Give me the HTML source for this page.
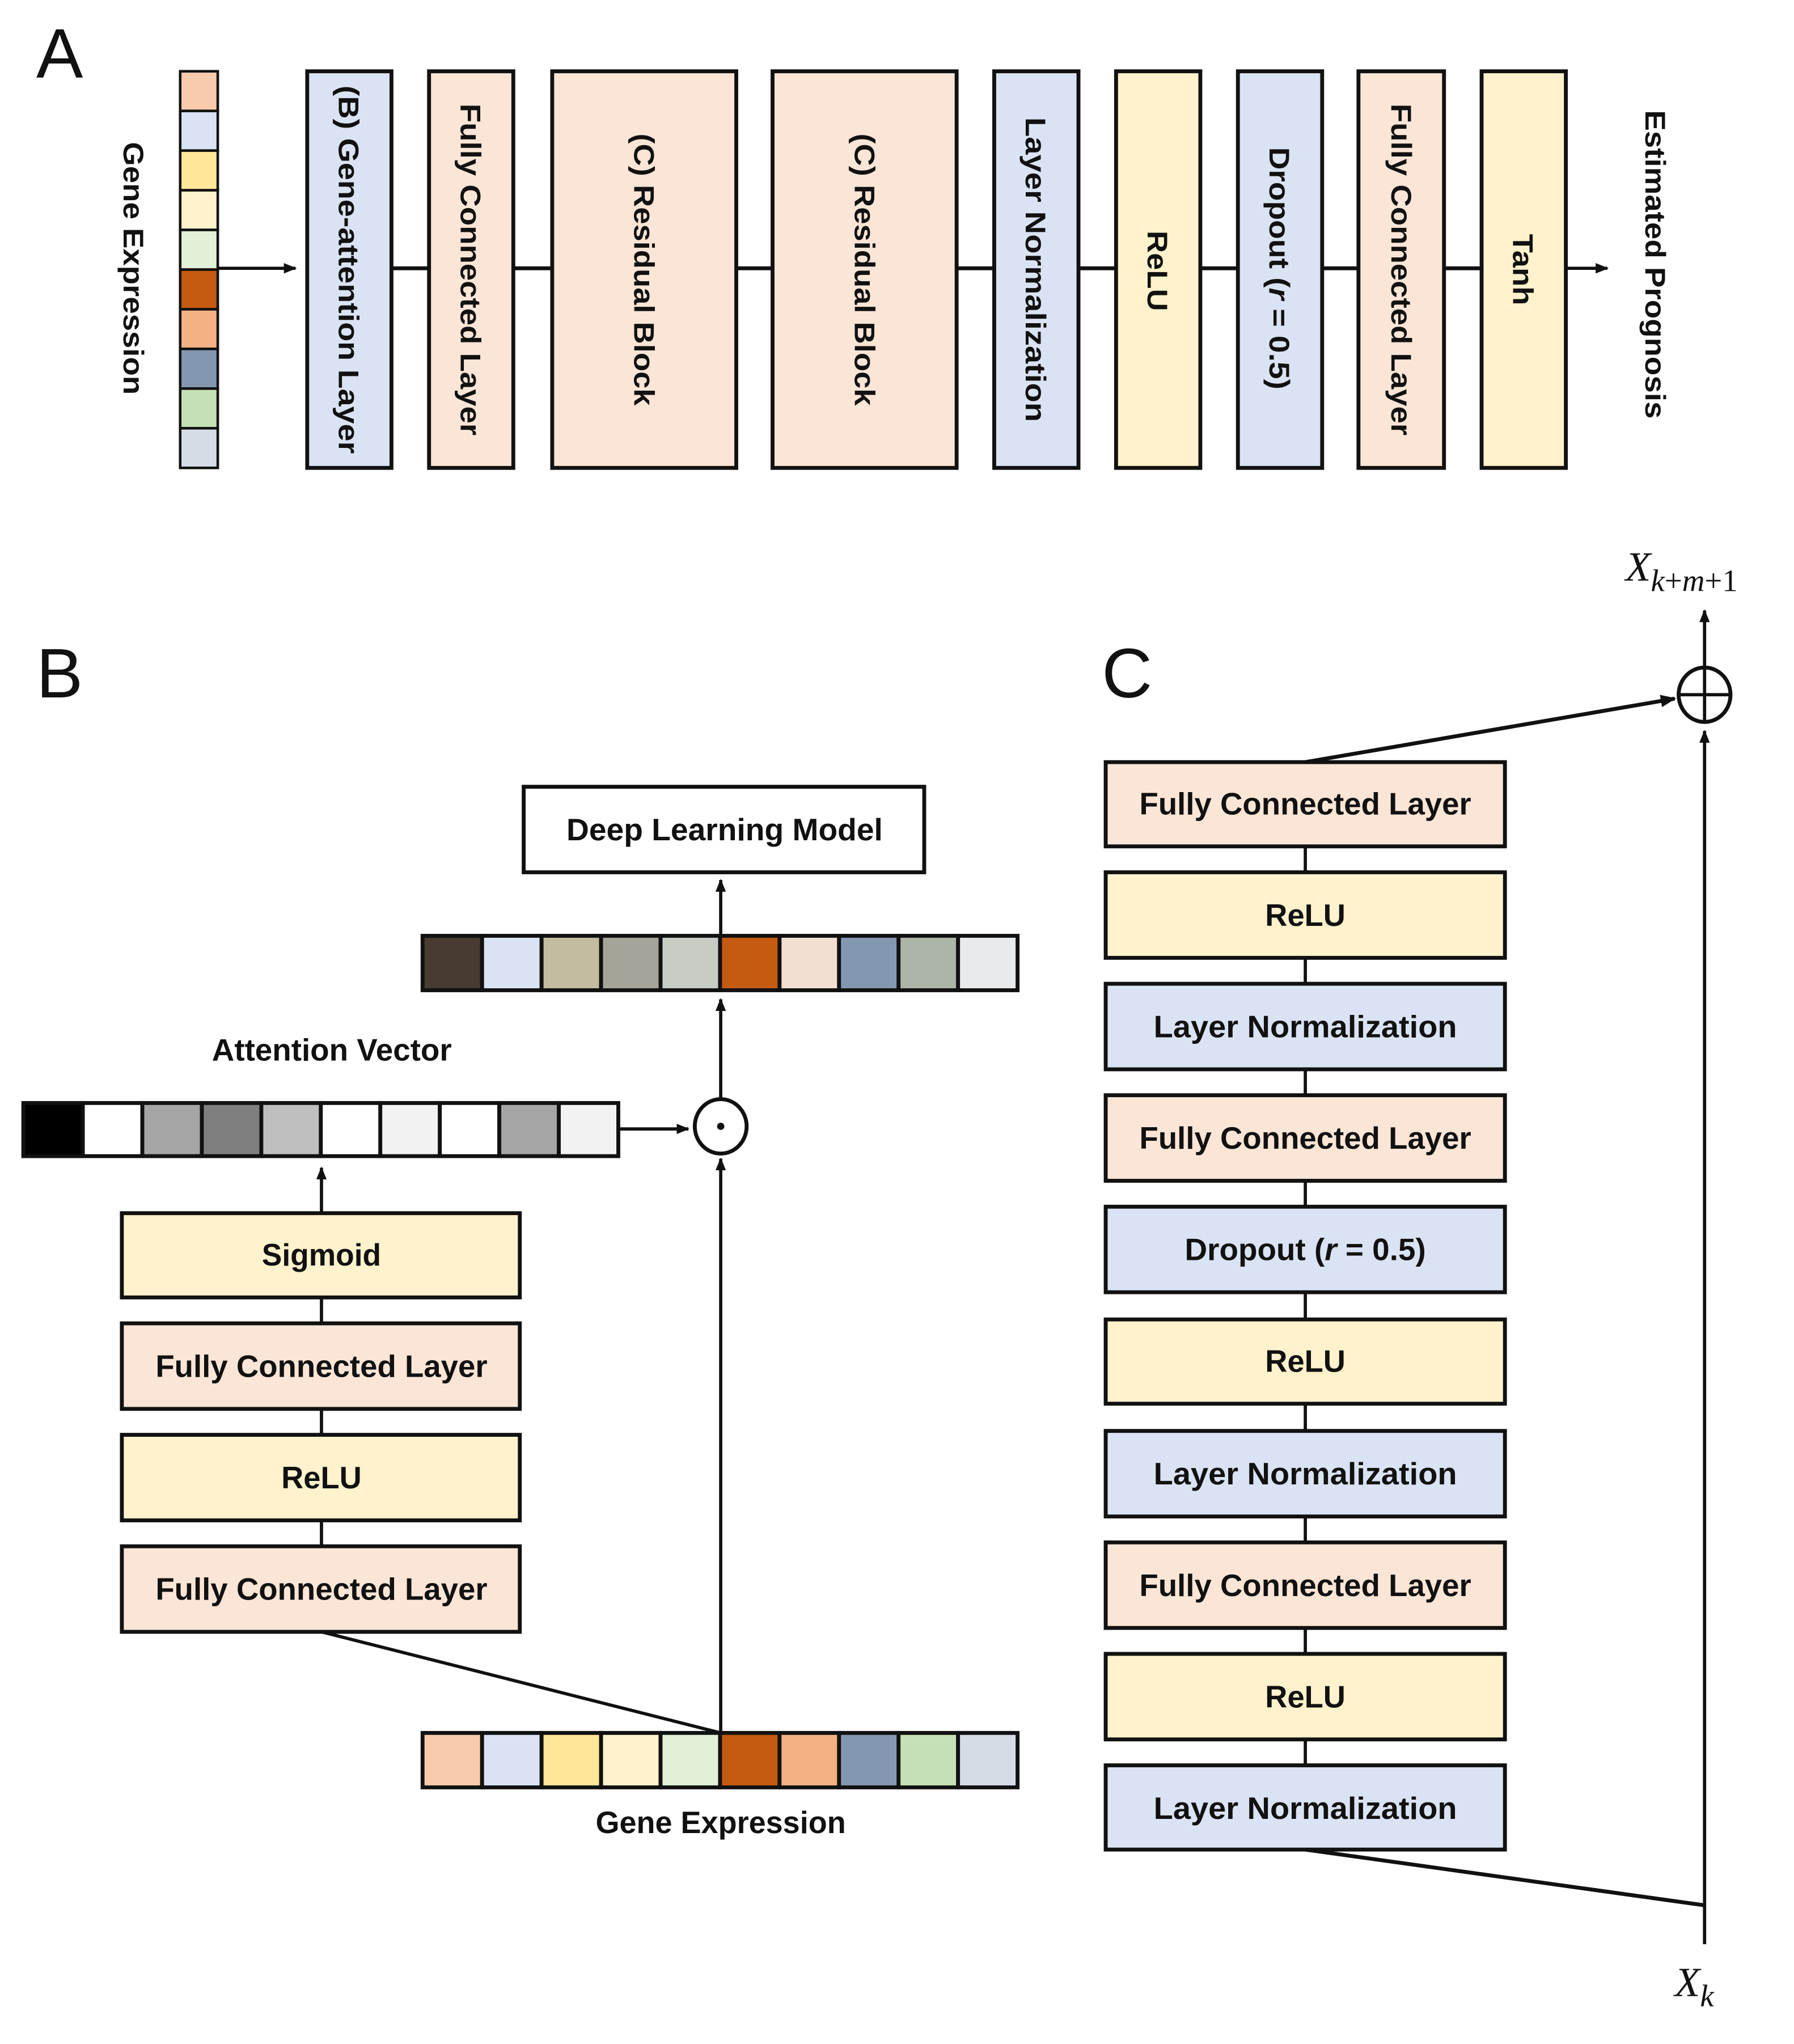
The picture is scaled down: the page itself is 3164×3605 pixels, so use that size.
<!DOCTYPE html>
<html><head><meta charset="utf-8"><style>
html,body{margin:0;padding:0;background:#fff;}
svg{display:block;}
text{font-family:"Liberation Sans",sans-serif;font-weight:bold;fill:#111;}
.n{font-family:"Liberation Sans Narrow","Liberation Sans",sans-serif;}
</style></head><body>
<svg width="3164" height="3605" viewBox="0 0 1384 1577" preserveAspectRatio="none" xmlns="http://www.w3.org/2000/svg">
<defs>
<marker id="ar" viewBox="0 0 10 10" refX="9" refY="5" markerWidth="4" markerHeight="4" orient="auto-start-reverse" markerUnits="strokeWidth">
<path d="M0,1 L10,5 L0,9 z" fill="#111"/></marker>
</defs>
<g stroke="#111" fill="none">
<!-- Panel A -->
<text x="28" y="60" style="font-weight:normal;font-size:54px" stroke="none">A</text>
<g stroke-width="2">
<rect x="139" y="55" width="29" height="30.6" fill="#f8cbad"/>
<rect x="139" y="85.6" width="29" height="30.6" fill="#dae3f3"/>
<rect x="139" y="116.2" width="29" height="30.6" fill="#ffe699"/>
<rect x="139" y="146.8" width="29" height="30.6" fill="#fff2cc"/>
<rect x="139" y="177.4" width="29" height="30.6" fill="#e2f0d9"/>
<rect x="139" y="208" width="29" height="30.6" fill="#c55a11"/>
<rect x="139" y="238.6" width="29" height="30.6" fill="#f4b183"/>
<rect x="139" y="269.2" width="29" height="30.6" fill="#8497b0"/>
<rect x="139" y="299.8" width="29" height="30.6" fill="#c5e0b4"/>
<rect x="139" y="330.4" width="29" height="30.6" fill="#d6dce5"/>
</g>
<line x1="168" y1="207" x2="228" y2="207" stroke-width="2.5" marker-end="url(#ar)"/>
<line x1="302" y1="207" x2="1143" y2="207" stroke-width="3"/>
<line x1="1208" y1="207" x2="1240" y2="207" stroke-width="2.5" marker-end="url(#ar)"/>
<g stroke-width="3">
<rect x="237" y="55" width="65" height="306" fill="#dae3f3"/>
<rect x="331" y="55" width="65" height="306" fill="#fbe5d6"/>
<rect x="426" y="55" width="142" height="306" fill="#fbe5d6"/>
<rect x="596" y="55" width="142" height="306" fill="#fbe5d6"/>
<rect x="767" y="55" width="65" height="306" fill="#dae3f3"/>
<rect x="861" y="55" width="65" height="306" fill="#fff2cc"/>
<rect x="955" y="55" width="65" height="306" fill="#dae3f3"/>
<rect x="1048" y="55" width="66" height="306" fill="#fbe5d6"/>
<rect x="1143" y="55" width="65" height="306" fill="#fff2cc"/>
</g>
<g stroke="none" style="font-size:22px" dominant-baseline="central" text-anchor="middle">
<text transform="translate(103,207) rotate(90)" textLength="195" lengthAdjust="spacingAndGlyphs">Gene Expression</text>
<text transform="translate(269,208) rotate(90)" textLength="284" lengthAdjust="spacingAndGlyphs">(B) Gene-attention Layer</text>
<text transform="translate(363,208) rotate(90)" textLength="256" lengthAdjust="spacingAndGlyphs">Fully Connected Layer</text>
<text transform="translate(497,208) rotate(90)" textLength="210" lengthAdjust="spacingAndGlyphs">(C) Residual Block</text>
<text transform="translate(667,208) rotate(90)" textLength="210" lengthAdjust="spacingAndGlyphs">(C) Residual Block</text>
<text transform="translate(799,208) rotate(90)" textLength="235" lengthAdjust="spacingAndGlyphs">Layer Normalization</text>
<text transform="translate(893,209) rotate(90)" textLength="62" lengthAdjust="spacingAndGlyphs">ReLU</text>
<text transform="translate(987,207) rotate(90)" textLength="187" lengthAdjust="spacingAndGlyphs">Dropout (<tspan font-style="italic">r</tspan> = 0.5)</text>
<text transform="translate(1081,208) rotate(90)" textLength="256" lengthAdjust="spacingAndGlyphs">Fully Connected Layer</text>
<text transform="translate(1175,208) rotate(90)" textLength="55" lengthAdjust="spacingAndGlyphs">Tanh</text>
<text transform="translate(1277,204) rotate(90)" textLength="238" lengthAdjust="spacingAndGlyphs">Estimated Prognosis</text>
</g>

<!-- Panel B -->
<text x="28" y="538" style="font-weight:normal;font-size:54px" stroke="none">B</text>
<rect x="404" y="607" width="309" height="66" fill="#fff" stroke-width="3"/>
<line x1="556" y1="722" x2="556" y2="679" stroke-width="2.5" marker-end="url(#ar)"/>
<g stroke-width="3">
<rect x="326" y="722" width="45.9" height="42" fill="#483c32"/>
<rect x="371.9" y="722" width="45.9" height="42" fill="#dae3f3"/>
<rect x="417.8" y="722" width="45.9" height="42" fill="#c2bca0"/>
<rect x="463.7" y="722" width="45.9" height="42" fill="#a6a398"/>
<rect x="509.6" y="722" width="45.9" height="42" fill="#c7ccc4"/>
<rect x="555.5" y="722" width="45.9" height="42" fill="#c55a11"/>
<rect x="601.4" y="722" width="45.9" height="42" fill="#f2dfd2"/>
<rect x="647.3" y="722" width="45.9" height="42" fill="#8497b0"/>
<rect x="693.2" y="722" width="45.9" height="42" fill="#acb5a8"/>
<rect x="739.1" y="722" width="45.9" height="42" fill="#e9eaec"/>
</g>
<line x1="556" y1="848" x2="556" y2="771" stroke-width="2.5" marker-end="url(#ar)"/>
<g stroke-width="3">
<rect x="18" y="851" width="45.9" height="41" fill="#000"/>
<rect x="63.9" y="851" width="45.9" height="41" fill="#fff"/>
<rect x="109.8" y="851" width="45.9" height="41" fill="#a5a5a5"/>
<rect x="155.7" y="851" width="45.9" height="41" fill="#7f7f7f"/>
<rect x="201.6" y="851" width="45.9" height="41" fill="#bfbfbf"/>
<rect x="247.5" y="851" width="45.9" height="41" fill="#fff"/>
<rect x="293.4" y="851" width="45.9" height="41" fill="#f2f2f2"/>
<rect x="339.3" y="851" width="45.9" height="41" fill="#fff"/>
<rect x="385.2" y="851" width="45.9" height="41" fill="#a5a5a5"/>
<rect x="431.1" y="851" width="45.9" height="41" fill="#f2f2f2"/>
</g>
<line x1="477" y1="871" x2="531" y2="871" stroke-width="2.5" marker-end="url(#ar)"/>
<ellipse cx="556" cy="869" rx="20" ry="21" stroke-width="3" fill="#fff"/>
<circle cx="556" cy="869" r="2.8" fill="#111" stroke="none"/>
<line x1="248" y1="936" x2="248" y2="901" stroke-width="2.5" marker-end="url(#ar)"/>
<line x1="248" y1="1001" x2="248" y2="1193" stroke-width="2.5"/>
<g stroke-width="3">
<rect x="94" y="936" width="307" height="65" fill="#fff2cc"/>
<rect x="94" y="1021" width="307" height="66" fill="#fbe5d6"/>
<rect x="94" y="1107" width="307" height="66" fill="#fff2cc"/>
<rect x="94" y="1193" width="307" height="66" fill="#fbe5d6"/>
</g>
<line x1="248" y1="1259" x2="556" y2="1337" stroke-width="2.5"/>
<line x1="556" y1="1337" x2="556" y2="894" stroke-width="2.5" marker-end="url(#ar)"/>
<g stroke-width="3">
<rect x="326" y="1337" width="45.9" height="42" fill="#f8cbad"/>
<rect x="371.9" y="1337" width="45.9" height="42" fill="#dae3f3"/>
<rect x="417.8" y="1337" width="45.9" height="42" fill="#ffe699"/>
<rect x="463.7" y="1337" width="45.9" height="42" fill="#fff2cc"/>
<rect x="509.6" y="1337" width="45.9" height="42" fill="#e2f0d9"/>
<rect x="555.5" y="1337" width="45.9" height="42" fill="#c55a11"/>
<rect x="601.4" y="1337" width="45.9" height="42" fill="#f4b183"/>
<rect x="647.3" y="1337" width="45.9" height="42" fill="#8497b0"/>
<rect x="693.2" y="1337" width="45.9" height="42" fill="#c5e0b4"/>
<rect x="739.1" y="1337" width="45.9" height="42" fill="#d6dce5"/>
</g>
<g stroke="none" class="n" style="font-size:24px" text-anchor="middle" dominant-baseline="central">
<text class="n" x="559" y="640" textLength="244" lengthAdjust="spacingAndGlyphs">Deep Learning Model</text>
<text class="n" x="256" y="810" textLength="185" lengthAdjust="spacingAndGlyphs">Attention Vector</text>
<text class="n" x="248" y="968" textLength="92" lengthAdjust="spacingAndGlyphs">Sigmoid</text>
<text class="n" x="248" y="1054" textLength="256" lengthAdjust="spacingAndGlyphs">Fully Connected Layer</text>
<text class="n" x="248" y="1140" textLength="62" lengthAdjust="spacingAndGlyphs">ReLU</text>
<text class="n" x="248" y="1226" textLength="256" lengthAdjust="spacingAndGlyphs">Fully Connected Layer</text>
<text class="n" x="556" y="1406" textLength="193" lengthAdjust="spacingAndGlyphs">Gene Expression</text>
</g>

<!-- Panel C -->
<text x="850" y="538" style="font-weight:normal;font-size:54px" stroke="none">C</text>
<line x1="1007" y1="620" x2="1007" y2="1395" stroke-width="2.5"/>
<line x1="1007" y1="588" x2="1292" y2="539" stroke-width="3" marker-end="url(#ar)"/>
<line x1="1007" y1="1427" x2="1315" y2="1470" stroke-width="3"/>
<line x1="1315" y1="1500" x2="1315" y2="564" stroke-width="2.5" marker-end="url(#ar)"/>
<line x1="1315" y1="515" x2="1315" y2="471" stroke-width="2.5" marker-end="url(#ar)"/>
<ellipse cx="1315" cy="536" rx="20" ry="21" stroke-width="3" fill="#fff"/>
<line x1="1295" y1="536" x2="1335" y2="536" stroke-width="2.5"/>
<line x1="1315" y1="515" x2="1315" y2="557" stroke-width="2.5"/>
<g stroke-width="3">
<rect x="853" y="588" width="308" height="65" fill="#fbe5d6"/>
<rect x="853" y="673" width="308" height="66" fill="#fff2cc"/>
<rect x="853" y="759" width="308" height="66" fill="#dae3f3"/>
<rect x="853" y="845" width="308" height="66" fill="#fbe5d6"/>
<rect x="853" y="931" width="308" height="66" fill="#dae3f3"/>
<rect x="853" y="1018" width="308" height="65" fill="#fff2cc"/>
<rect x="853" y="1104" width="308" height="66" fill="#dae3f3"/>
<rect x="853" y="1190" width="308" height="66" fill="#fbe5d6"/>
<rect x="853" y="1276" width="308" height="66" fill="#fff2cc"/>
<rect x="853" y="1362" width="308" height="65" fill="#dae3f3"/>
</g>
<g stroke="none" style="font-size:24px" text-anchor="middle" dominant-baseline="central">
<text class="n" x="1007" y="620" textLength="256" lengthAdjust="spacingAndGlyphs">Fully Connected Layer</text>
<text class="n" x="1007" y="706" textLength="62" lengthAdjust="spacingAndGlyphs">ReLU</text>
<text class="n" x="1007" y="792" textLength="234" lengthAdjust="spacingAndGlyphs">Layer Normalization</text>
<text class="n" x="1007" y="878" textLength="256" lengthAdjust="spacingAndGlyphs">Fully Connected Layer</text>
<text class="n" x="1007" y="964" textLength="186" lengthAdjust="spacingAndGlyphs">Dropout (<tspan font-style="italic">r</tspan> = 0.5)</text>
<text class="n" x="1007" y="1050" textLength="62" lengthAdjust="spacingAndGlyphs">ReLU</text>
<text class="n" x="1007" y="1137" textLength="234" lengthAdjust="spacingAndGlyphs">Layer Normalization</text>
<text class="n" x="1007" y="1223" textLength="256" lengthAdjust="spacingAndGlyphs">Fully Connected Layer</text>
<text class="n" x="1007" y="1309" textLength="62" lengthAdjust="spacingAndGlyphs">ReLU</text>
<text class="n" x="1007" y="1395" textLength="234" lengthAdjust="spacingAndGlyphs">Layer Normalization</text>
</g>
<g stroke="none" style="font-family:'Liberation Serif',serif;font-weight:normal;font-style:italic">
<text x="1254" y="448" style="font-family:'Liberation Serif',serif;font-weight:normal;font-size:32px">X<tspan dy="8" style="font-size:24px">k</tspan><tspan style="font-size:24px;font-style:normal">+</tspan><tspan style="font-size:24px">m</tspan><tspan style="font-size:24px;font-style:normal">+1</tspan></text>
<text x="1292" y="1540" style="font-family:'Liberation Serif',serif;font-weight:normal;font-size:32px">X<tspan dy="8" style="font-size:24px">k</tspan></text>
</g>
</g>
</svg>
</body></html>
